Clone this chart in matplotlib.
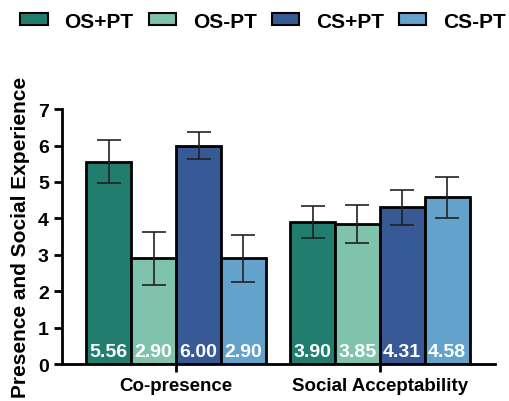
import numpy as np
import matplotlib.pyplot as plt
from matplotlib.patches import Patch

groups = ["Co-presence", "Social Acceptability"]
conditions = ["OS+PT", "OS-PT", "CS+PT", "CS-PT"]
colors = ["#217E6F", "#80C3AD", "#375A97", "#63A3CB"]
means = {
    "OS+PT": [5.56, 3.90],
    "OS-PT": [2.90, 3.85],
    "CS+PT": [6.00, 4.31],
    "CS-PT": [2.90, 4.58],
}
errs = {
    "OS+PT": [0.58, 0.43],
    "OS-PT": [0.72, 0.52],
    "CS+PT": [0.38, 0.48],
    "CS-PT": [0.64, 0.57],
}

plt.rcParams["font.family"] = ["Liberation Sans", "DejaVu Sans"]
plt.rcParams["font.weight"] = "bold"

fig = plt.figure(figsize=(5.1, 4.02), dpi=100)
ax = fig.add_axes([0.1216, 0.092, 0.849, 0.634])

x = np.arange(len(groups))
w = 0.22
for i, c in enumerate(conditions):
    pos = x + (i - 1.5) * w
    ax.bar(pos, means[c], w, color=colors[i], edgecolor="black", linewidth=2, zorder=2)
    ax.errorbar(pos, means[c], yerr=errs[c], fmt="none", ecolor="#222222",
                elinewidth=1.2, capsize=8.5, capthick=1.2, zorder=3)
    for p, v in zip(pos, means[c]):
        ax.text(p, 0.1, f"{v:.2f}", ha="center", va="bottom", color="white",
                fontsize=14, fontweight="bold", zorder=4)

ax.set_xlim(-0.56, 1.565)
ax.set_ylim(0, 7)
ax.set_yticks(range(8))
ax.set_xticks(x)
ax.set_xticklabels(groups, fontsize=13.5, fontweight="bold")
ax.tick_params(axis="y", labelsize=14, width=2, length=6)
ax.tick_params(axis="x", width=2, length=6)
for s in ["top", "right"]:
    ax.spines[s].set_visible(False)
for s in ["left", "bottom"]:
    ax.spines[s].set_linewidth(2)
ax.set_ylabel("Presence and Social Experience", fontsize=15, fontweight="bold", labelpad=6)

handles = [Patch(facecolor=colors[i], edgecolor="black", linewidth=1.5, label=c)
           for i, c in enumerate(conditions)]
fig.legend(handles=handles, loc="upper center", bbox_to_anchor=(0.516, 1.015), ncol=4,
           frameon=False, prop={"size": 15, "weight": "bold"},
           handlelength=1.3, handleheight=0.5, handletextpad=0.82, columnspacing=0.72)

fig.savefig("out.png", dpi=100)
